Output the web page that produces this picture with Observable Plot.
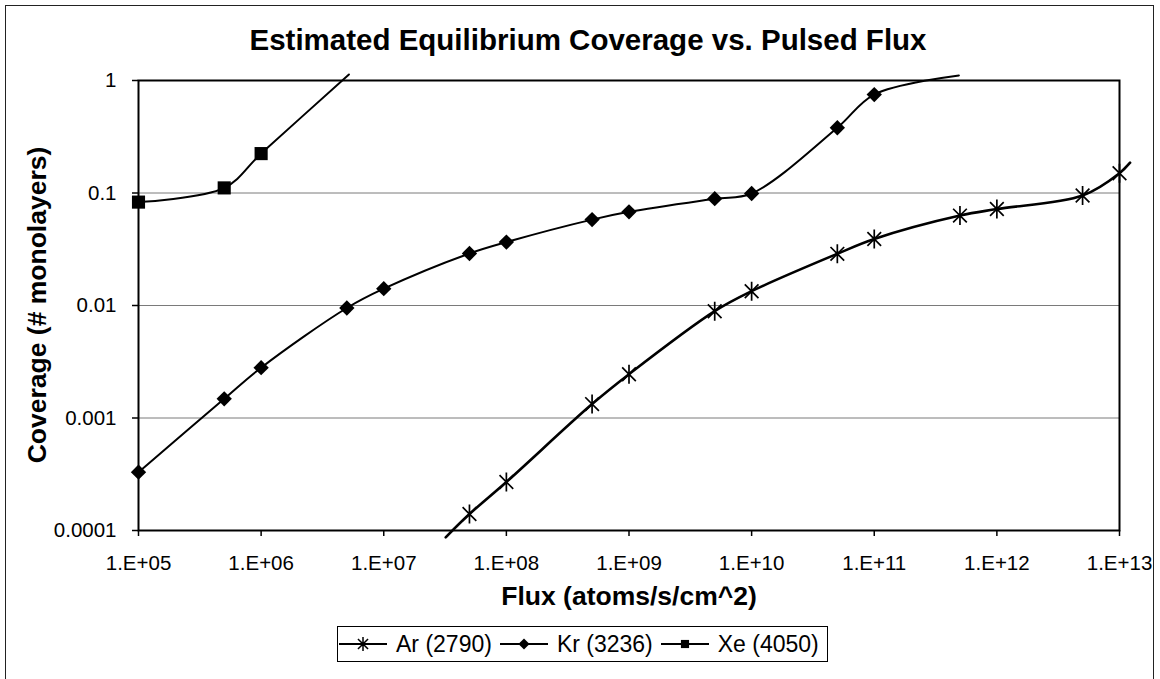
<!DOCTYPE html>
<html>
<head>
<meta charset="utf-8">
<script src="https://cdn.jsdelivr.net/npm/d3@7"></script>
<script src="https://cdn.jsdelivr.net/npm/@observablehq/plot@0.6"></script>
<style>
  html, body { margin: 0; padding: 0; background: #fff; }
  body { width: 1160px; height: 679px; position: relative; overflow: hidden;
         font-family: "Liberation Sans", Arial, sans-serif; color: #000; }
  #border { position: absolute; left: 5px; top: 5px; width: 1149px; height: 720px;
            border: 1.5px solid #222; box-sizing: border-box; }
  #chart { position: absolute; left: 0; top: 0; }
  #title { position: absolute; left: 0; width: 1176px; top: 25px; text-align: center;
           font-weight: bold; font-size: 29.5px; line-height: 29.5px; white-space: nowrap; }
  #ylabel { position: absolute; left: 37px; top: 305px; font-weight: bold; font-size: 26.5px;
            line-height: 26.5px; white-space: nowrap; transform: translate(-50%, -50%) rotate(-90deg); }
  #xlabel { position: absolute; left: 0; width: 1258px; top: 583px; text-align: center;
            font-weight: bold; font-size: 26.5px; line-height: 26.5px; white-space: nowrap; }
  #legend { position: absolute; left: 337px; top: 626px; height: 36px; box-sizing: border-box;
            border: 1px solid #000; display: flex; align-items: center; padding: 0 8px 0 1px;
            font-size: 23px; white-space: nowrap; background: #fff; }
  .item { display: flex; align-items: center; margin-right: 8px; }
  .item:last-child { margin-right: 0; }
  .item svg { margin-right: 9px; }
</style>
</head>
<body>
<div id="border"></div>
<div id="chart"></div>
<div id="title">Estimated Equilibrium Coverage vs. Pulsed Flux</div>
<div id="ylabel">Coverage (# monolayers)</div>
<div id="xlabel">Flux (atoms/s/cm^2)</div>
<div id="legend"></div>
<script>
// ---- data ----
const seriesNames = ["Ar (2790)", "Kr (3236)", "Xe (4050)"];
const seriesSymbols = ["star", "diamond2", "square"];

const arFlux = [3.2e7, 5e7, 1e8, 5e8, 1e9, 5e9, 1e10, 5e10, 1e11, 5e11, 1e12, 5e12, 1e13, 1.22e13];
const arCov  = [8.7e-5, 0.00014, 0.00027, 0.00133, 0.00245, 0.0089, 0.0134, 0.0288, 0.039, 0.063, 0.072, 0.095, 0.15, 0.186];

const krFlux = [1e5, 5e5, 1e6, 5e6, 1e7, 5e7, 1e8, 5e8, 1e9, 5e9, 1e10, 5e10, 1e11, 4.9e11];
const krCov  = [0.00033, 0.00148, 0.0028, 0.0095, 0.0141, 0.029, 0.0366, 0.058, 0.068, 0.089, 0.099, 0.38, 0.75, 1.11];

const xeFlux = [1e5, 5e5, 1e6, 5.2e6];
const xeCov  = [0.083, 0.111, 0.224, 1.13];

const xTicks = [1e5, 1e6, 1e7, 1e8, 1e9, 1e10, 1e11, 1e12, 1e13];
const xTickLabels = ["1.E+05", "1.E+06", "1.E+07", "1.E+08", "1.E+09", "1.E+10", "1.E+11", "1.E+12", "1.E+13"];
const yTicks = [1e-4, 1e-3, 1e-2, 1e-1, 1];
const yTickLabels = ["0.0001", "0.001", "0.01", "0.1", "1"];
const yGrid = [1e-3, 1e-2, 1e-1];

// Excel-style star marker: vertical bar plus an X
const excelStar = {
  draw(context, size) {
    const r = Math.sqrt(size / Math.PI);
    const d = r * 0.72;
    context.moveTo(0, -r); context.lineTo(0, r);
    context.moveTo(-d, -d); context.lineTo(d, d);
    context.moveTo(-d, d); context.lineTo(d, -d);
  }
};

// ---- build table ----
const rows = [];
[[arFlux, arCov], [krFlux, krCov], [xeFlux, xeCov]].forEach(([fx, cv], i) => {
  fx.forEach((f, j) => rows.push({series: seriesNames[i], flux: f, cov: cv[j]}));
});
const inside = d => d.flux >= 1e5 && d.flux <= 1e13 && d.cov >= 1e-4 && d.cov <= 1;
const lineWidths = {"Ar (2790)": 2.6, "Kr (3236)": 2, "Xe (4050)": 2};

const marks = [
  Plot.gridY(yGrid, {stroke: "#7a7a7a", strokeOpacity: 1, strokeWidth: 1}),
  Plot.axisX(xTicks, {tickSize: 6, tickPadding: 19, stroke: "#000", strokeWidth: 1.5,
    tickFormat: (d) => xTickLabels[xTicks.indexOf(d)], fontSize: 20.5, label: null}),
  Plot.axisY(yTicks, {tickSize: 6, tickPadding: 16, stroke: "#000", strokeWidth: 1.5,
    tickFormat: (d) => yTickLabels[yTicks.indexOf(d)], fontSize: 20.5, label: null}),
];
seriesNames.forEach((s) => {
  const data = rows.filter(d => d.series === s);
  marks.push(Plot.line(data, {x: "flux", y: "cov", curve: "catmull-rom", stroke: "#000",
    strokeWidth: lineWidths[s]}));
});
seriesNames.forEach((s, i) => {
  const data = rows.filter(d => d.series === s && inside(d));
  const sym = seriesSymbols[i];
  if (sym === "star") {
    marks.push(Plot.dot(data, {x: "flux", y: "cov", symbol: excelStar, r: 9.5, stroke: "#000", strokeWidth: 1.7, fill: "none"}));
  } else if (sym === "diamond2") {
    marks.push(Plot.dot(data, {x: "flux", y: "cov", symbol: sym, r: 6.9, fill: "#000", stroke: "none"}));
  } else {
    marks.push(Plot.dot(data, {x: "flux", y: "cov", symbol: sym, r: 7.4, fill: "#000", stroke: "none"}));
  }
});
marks.push(Plot.frame({stroke: "#000", strokeWidth: 2}));

const chart = Plot.plot({
  width: 1160, height: 610,
  marginLeft: 138, marginRight: 41, marginTop: 80, marginBottom: 80,
  style: {fontFamily: "'Liberation Sans', Arial, sans-serif", fontSize: "20px", color: "#000", background: "transparent", overflow: "visible"},
  x: {type: "log", domain: [1e5, 1e13]},
  y: {type: "log", domain: [1e-4, 1]},
  marks
});
document.getElementById("chart").appendChild(chart);

// ---- legend ----
const legend = document.getElementById("legend");
const symSpec = {star: [excelStar, 7], diamond2: [d3.symbolDiamond2, 5], square: [d3.symbolSquare, 4.6]};
seriesNames.forEach((s, i) => {
  const item = document.createElement("div");
  item.className = "item";
  const [type, r] = symSpec[seriesSymbols[i]];
  const path = d3.symbol(type, Math.PI * r * r)();
  const filled = seriesSymbols[i] !== "star";
  item.innerHTML = `<svg width="48" height="20" viewBox="0 0 48 20"><line x1="0" x2="48" y1="10" y2="10" stroke="#000" stroke-width="1.8"/>` +
    `<path d="${path}" transform="translate(24,10)" ${filled ? 'fill="#000"' : 'fill="none" stroke="#000" stroke-width="1.5"'}/></svg><span>${s}</span>`;
  legend.appendChild(item);
});
</script>
</body>
</html>
